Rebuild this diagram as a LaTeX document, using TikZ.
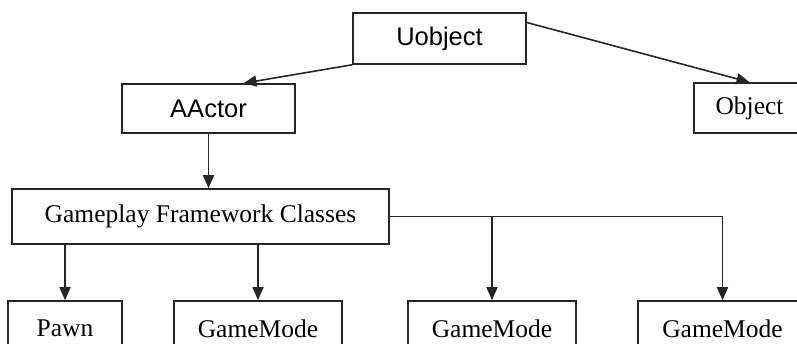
\documentclass[tikz,border=0pt]{standalone}
\usepackage{fontspec}
\setmainfont{Liberation Serif}
\newfontfamily\arialf{Liberation Sans}
\usetikzlibrary{arrows.meta}
\begin{document}
\begin{tikzpicture}[x=1pt,y=-1pt,
  box/.style={draw=black!85, line width=1.6pt, fill=white, inner sep=0pt,
    font=\fontsize{25.5}{30}\selectfont},
  conn/.style={draw=black!85, line width=1.6pt, -{Triangle[length=13pt,width=11pt]}},
  line/.style={draw=black!85, line width=1.6pt}]
\useasboundingbox (0,0) rectangle (797,344);
\clip (0,0) rectangle (797,344);
\node[box, minimum width=173pt, minimum height=51pt, font=\arialf\fontsize{25.5}{30}\selectfont] (uobj) at (439.5,38.5) {Uobject};
\node[box, minimum width=173pt, minimum height=49pt, font=\arialf\fontsize{25.5}{30}\selectfont] (aactor) at (208.5,108.5) {AActor};
\node[box, minimum width=111pt, minimum height=50pt] (obj) at (749.5,108) {Object};
\node[box, minimum width=377pt, minimum height=55pt] (gp) at (200.5,216.5) {Gameplay Framework Classes};
\node[box, minimum width=114pt, minimum height=55pt] (pawn) at (65,328.5) {Pawn};
\node[box, minimum width=168pt, minimum height=55pt] (gm1) at (258,328.5) {GameMode};
\node[box, minimum width=168pt, minimum height=55pt] (gm2) at (492,328.5) {GameMode};
\node[box, minimum width=169pt, minimum height=55pt] (gm3) at (722.5,328.5) {GameMode};
\draw[conn] (uobj.south west) -- ([xshift=35pt]aactor.north);
\draw[conn] ([yshift=16pt]uobj.east) -- (obj.north);
\draw[conn] (aactor.south) -- (aactor.south |- gp.north);
\draw[conn] (gp.south -| pawn.north) -- (pawn.north);
\draw[conn] (gp.south -| gm1.north) -- (gm1.north);
\draw[line] (gp.east) -- (gp.east -| gm3.north);
\draw[conn] (gp.east -| gm3.north) -- (gm3.north);
\draw[conn] (gp.east -| gm2.north) -- (gm2.north);
\end{tikzpicture}
\end{document}
